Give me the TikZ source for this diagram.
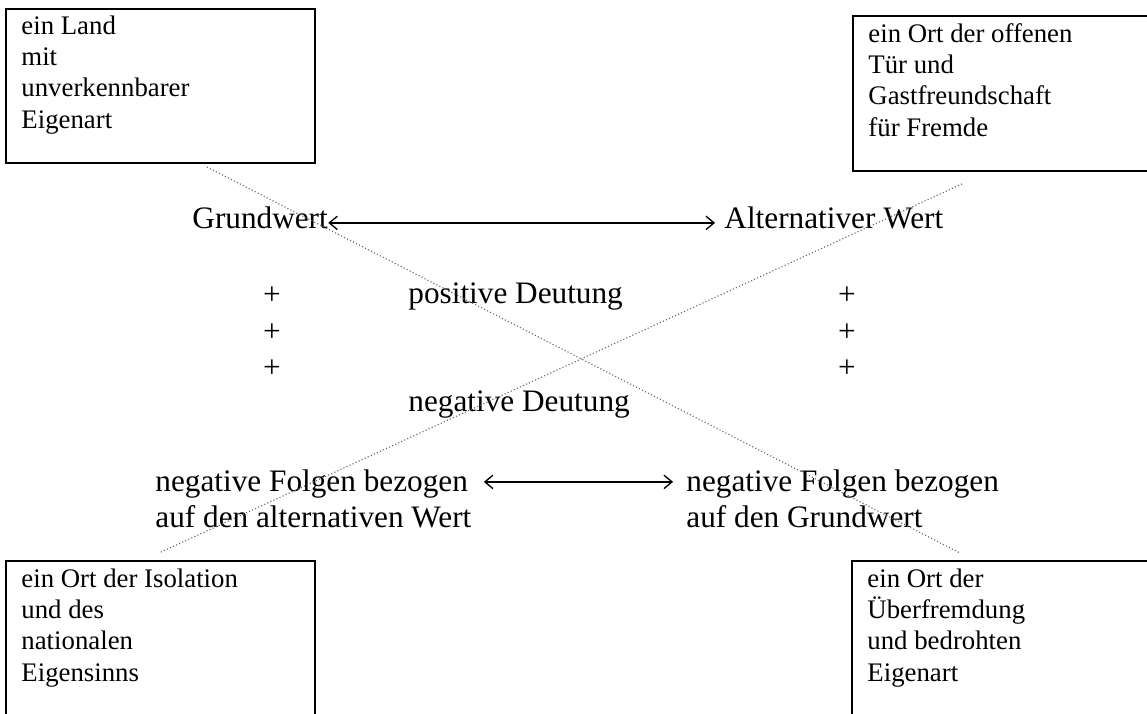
\documentclass[tikz,border=0pt]{standalone}
\usepackage{fontspec}
\setmainfont{Liberation Serif}
\usetikzlibrary{positioning, arrows.meta}

\begin{document}
\begin{tikzpicture}
	[x=0.448pt, y=-0.448pt, on grid, node distance=16.35pt,
	 >={Straight Barb[length=3.6pt,width=6pt]},
	 ortbox/.style={draw, line width=1.1pt, anchor=north west, inner sep=0, outer sep=0},
	 orttext/.style={anchor=base west, align=left, inner sep=0, font=\fontsize{12}{13.9}\selectfont},
	 wert/.style={anchor=base west, align=left, inner sep=0, font=\fontsize{14}{15.7}\selectfont},
	 plus/.style={inner sep=0, font=\fontsize{14}{15.7}\selectfont},
	 pfeil/.style={<->, line width=0.6pt},
	 deutung/.style={densely dotted, black!60, line width=0.5pt}]
   \useasboundingbox (0,0) rectangle (1147,713);
   \clip (0,0) rectangle (1147,713);
   \node[ortbox, minimum width=138.4pt, minimum height=69pt] (land) at (6,9) {};
   \node[ortbox, minimum width=143.4pt, minimum height=69.4pt] (offen) at (853,16) {};
   \node[ortbox, minimum width=138.4pt, minimum height=76.2pt] (isolation) at (6,561) {};
   \node[ortbox, minimum width=143.4pt, minimum height=76.2pt] (ueberfremd) at (852,561) {};
   \node[orttext] (landtext) at ([shift={(15,119)}]land.north west) {ein Land\\mit\\unverkennbarer\\Eigenart};
   \node[orttext] (offentext) at ([shift={(15,120)}]offen.north west) {ein Ort der offenen\\Tür und\\Gastfreundschaft\\für Fremde};
   \node[orttext] (isolationtext) at ([shift={(15,120)}]isolation.north west) {ein Ort der Isolation\\und des\\nationalen\\Eigensinns};
   \node[orttext] (ueberfremdtext) at ([shift={(15,120)}]ueberfremd.north west) {ein Ort der\\Überfremdung\\und bedrohten\\Eigenart};

   \node[wert] (grund) at (192,228) {Grundwert};
   \node[wert] (alt) at (724,228) {Alternativer Wert};
   \node[wert] (pos) at (408,303) {positive Deutung};
   \node[wert, below=48.8pt of pos.base west, anchor=base west] (neg) {negative Deutung};
   \node[wert] (folgenalt) at (155,527) {negative Folgen bezogen\\auf den alternativen Wert};
   \node[wert] (folgengrund) at (686,527) {negative Folgen bezogen\\auf den Grundwert};

   \node[plus] (plusa) at (272,296) {+};
   \node[plus] (plusb) [below=of plusa] {+};
   \node[plus] (plusc) [below=of plusb] {+};
   \node[plus] (plusd) at (847,296) {+};
   \node[plus] (pluse) [below=of plusd] {+};
   \node[plus] (plusf) [below=of pluse] {+};

   \draw[pfeil] (grund.mid east) -- ([xshift=-4pt]alt.mid west);
   \draw[pfeil] ([shift={(5.4pt,-5.4pt)}]folgenalt.north east) -- ([shift={(-5.8pt,-5.4pt)}]folgengrund.north west);

   \draw[deutung] ([shift={(201,4)}]land.south west) -- ([shift={(108,-8)}]ueberfremd.north west);
   \draw[deutung] ([shift={(109,13)}]offen.south west) -- ([shift={(155,-9)}]isolation.north west);
\end{tikzpicture}
\end{document}
